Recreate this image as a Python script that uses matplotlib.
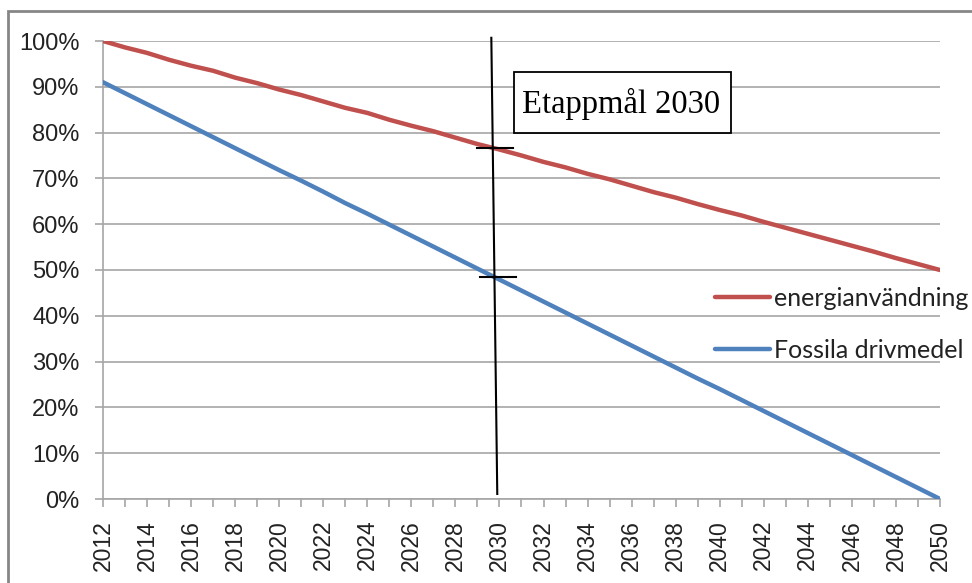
import matplotlib
matplotlib.use("Agg")
import matplotlib.pyplot as plt
from matplotlib.patches import Rectangle
from matplotlib.lines import Line2D
from matplotlib.ticker import FuncFormatter

years = list(range(2012, 2051))
energi = [100.0, 98.6, 97.4, 95.9, 94.6, 93.5, 92.0, 90.8, 89.4, 88.2,
          86.8, 85.4, 84.3, 82.8, 81.5, 80.3, 78.9, 77.5, 76.3, 75.0,
          73.6, 72.4, 71.0, 69.8, 68.4, 67.0, 65.8, 64.4, 63.1, 61.9,
          60.5, 59.2, 57.9, 56.6, 55.3, 54.0, 52.6, 51.3, 50.0]
fossil = [91.0, 88.6, 86.2, 83.8, 81.4, 79.0, 76.6, 74.2, 71.8, 69.5,
          67.1, 64.6, 62.3, 59.9, 57.5, 55.1, 52.7, 50.3, 47.9, 45.5,
          43.1, 40.7, 38.3, 35.9, 33.5, 31.1, 28.7, 26.3, 24.0, 21.6,
          19.2, 16.8, 14.4, 12.0, 9.6, 7.2, 4.8, 2.4, 0.0]
labels = ["energianvändning", "Fossila drivmedel"]
colors = ["#C0504D", "#4F81BD"]
yticks = list(range(0, 101, 10))
xlabels = list(range(2012, 2051, 2))

W, H = 972, 583
fig = plt.figure(figsize=(W / 100, H / 100), dpi=100)
fig.patch.set_facecolor("white")

ax = fig.add_axes([103 / W, 1 - 499 / H, (940 - 103) / W, (499 - 41) / H])
ax.plot(years, energi, color=colors[0], lw=3.2, label=labels[0], solid_capstyle="round", zorder=3)
ax.plot(years, fossil, color=colors[1], lw=3.2, label=labels[1], solid_capstyle="round", zorder=3)

ax.set_xlim(2012, 2050)
ax.set_ylim(0, 100)
ax.set_yticks(yticks)
ax.yaxis.set_major_formatter(FuncFormatter(lambda v, p: f"{int(v)}%"))
ax.set_xticks(years)
ax.set_xticklabels([str(y) if y in xlabels else "" for y in years], rotation=90)
ax.grid(axis="y", color="#A6A6A6", lw=1.2)
ax.set_axisbelow(True)
for s in ["top", "right"]:
    ax.spines[s].set_visible(False)
for s in ["left", "bottom"]:
    ax.spines[s].set_color("#A6A6A6")
    ax.spines[s].set_linewidth(1.2)
ax.tick_params(axis="y", length=6, width=1.2, color="#A6A6A6", pad=11,
               labelsize=17, labelcolor="#222222")
ax.tick_params(axis="x", length=6, width=1.2, color="#A6A6A6", pad=9,
               labelsize=16.5, labelcolor="#222222")
for t in ax.get_xticklabels() + ax.get_yticklabels():
    t.set_fontfamily("Liberation Sans")

# annotation: 2030 target line and marks
ax.add_line(Line2D([2029.63, 2029.90], [100.7, 1.1], color="black", lw=1.5,
                   clip_on=False, zorder=4))
ax.add_line(Line2D([2029.0, 2030.6], [76.6, 76.6], color="black", lw=1.5, zorder=4))
ax.add_line(Line2D([2029.1, 2030.75], [48.5, 48.5], color="black", lw=1.5, zorder=4))

# text box
fig.add_artist(Rectangle((514 / W, 1 - 133 / H), (731 - 514) / W, (133 - 72) / H,
                         transform=fig.transFigure, facecolor="white",
                         edgecolor="black", lw=1.3, zorder=5))
fig.text(621 / W, 1 - 104 / H, "Etappmål 2030", ha="center", va="center",
         fontsize=23.5, family="Liberation Serif", zorder=6)

leg = ax.legend(loc="upper left", bbox_to_anchor=(715 / W, 1 - 287 / H),
                bbox_transform=fig.transFigure, frameon=False,
                prop={"family": "Lato", "size": 18}, handlelength=2.2,
                handletextpad=0.14, labelspacing=1.15, borderpad=0, borderaxespad=0)
for t in leg.get_texts():
    t.set_color("#222222")

# outer border
fig.add_artist(Rectangle((8 / W, -0.05), 1.1, 1 - 11 / H + 0.05,
                         transform=fig.transFigure, facecolor="none",
                         edgecolor="#868686", lw=2, zorder=10))

fig.savefig("out.png", dpi=100)
